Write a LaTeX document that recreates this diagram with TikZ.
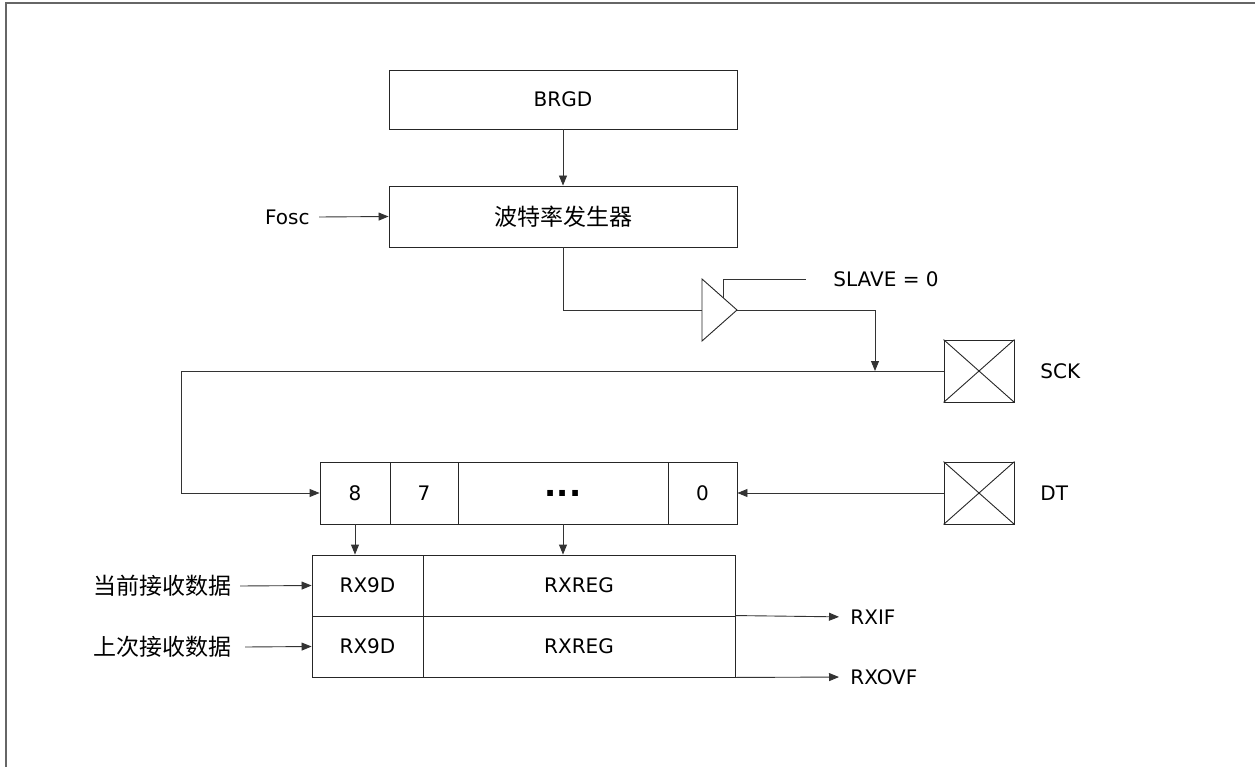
\documentclass[tikz,border=0pt]{standalone}
\usepackage{fontspec}
\setmainfont{DejaVu Sans}
\newfontfamily\cjk{Noto Sans CJK SC}
\usetikzlibrary{arrows.meta}
\begin{document}
\begin{tikzpicture}[x=1pt,y=-1pt,
  line width=0.9pt,
  every node/.style={font=\fontsize{20}{23}\selectfont, text=black},
  box/.style={draw=black!85, minimum height=#1, inner sep=0pt},
  wire/.style={draw=black!80},
  arr/.style={wire, -{Triangle[length=10pt,width=8pt]}},
  lbl/.style={inner sep=0pt},
  cjklbl/.style={inner sep=0pt, font=\cjk\fontsize{23}{25}\selectfont}]
\useasboundingbox (0,0) rectangle (1255,767);
% frame
\draw[black!60, line width=1.8pt] (6,767) -- (6,3) -- (1255,3);

% top boxes
\node[box=59pt, minimum width=348pt] (brgd) at (563,99.5) {BRGD};
\node[box=61pt, minimum width=348pt] (baud) at (563,216.5) {\cjk\fontsize{23}{25}\selectfont 波特率发生器};
\draw[arr] (brgd.south) -- (baud.north);

\node[lbl, anchor=east] (fosc) at (310,217) {Fosc};
\draw[arr] ([xshift=9pt]fosc.east) -- (baud.west);

% buffer triangle
\coordinate (trin) at (702,310);
\coordinate (trout) at (737,310);
\draw[black!85, fill=white] (702,279) -- (737,310) -- (702,341) -- cycle;
\coordinate (trctl) at (723,297.5);
\coordinate (slavee) at (806,279);
\node[lbl, anchor=west] (slave) at (833,279) {SLAVE = 0};
\draw[wire] (trctl) |- (slavee);
\draw[wire] (baud.south) |- (trin);

% SCK pad
\node[box=62pt, minimum width=70pt] (sck) at (979,371) {};
\draw[black!85] (sck.north west) -- (sck.south east) (sck.south west) -- (sck.north east);
\node[lbl, anchor=west] (scklbl) at (1040,371) {SCK};

\coordinate (sckj) at (875,371);
\draw[arr] (trout) -| (sckj);

% shift register
\node[box=62pt, minimum width=70pt] (c8) at (355,493) {8};
\node[box=62pt, minimum width=68pt] (c7) at (424,493) {7};
\node[box=62pt, minimum width=210pt] (cd) at (563,493) {\raisebox{-0.2ex}{\fontsize{32}{32}\selectfont\bfseries ...}};
\node[box=62pt, minimum width=69pt] (c0) at (702.5,493) {0};

\coordinate (lc) at (181,371);
\draw[arr] (sck.west) -- (lc) |- (c8.west);

% DT pad
\node[box=62pt, minimum width=70pt] (dt) at (979,493) {};
\draw[black!85] (dt.north west) -- (dt.south east) (dt.south west) -- (dt.north east);
\node[lbl, anchor=west] (dtlbl) at (1040,493) {DT};
\draw[arr] (dt.west) -- (c0.east);

% receive registers
\node[box=61pt, minimum width=111pt] (a1) at (367.5,585.5) {RX9D};
\node[box=61pt, minimum width=312pt] (b1) at (579,585.5) {RXREG};
\node[box=61pt, minimum width=111pt] (a2) at (367.5,646.5) {RX9D};
\node[box=61pt, minimum width=312pt] (b2) at (579,646.5) {RXREG};

\draw[arr] (c8.south) -- (c8.south |- a1.north);
\draw[arr] (cd.south) -- (cd.south |- b1.north);

\node[cjklbl, anchor=east] (cur) at (232,586) {当前接收数据};
\node[cjklbl, anchor=east] (prev) at (232,647) {上次接收数据};
\draw[arr] ([xshift=8pt]cur.east) -- (a1.west);
\draw[arr] ([xshift=13pt]prev.east) -- (a2.west);

\node[lbl, anchor=west] (rxif) at (850,617) {RXIF};
\node[lbl, anchor=west] (rxovf) at (850,677) {RXOVF};
\draw[arr, shorten >=11pt] (b2.north east) -- (rxif.west);
\draw[arr, shorten >=11pt] (b2.south east) -- (rxovf.west);
\end{tikzpicture}
\end{document}
